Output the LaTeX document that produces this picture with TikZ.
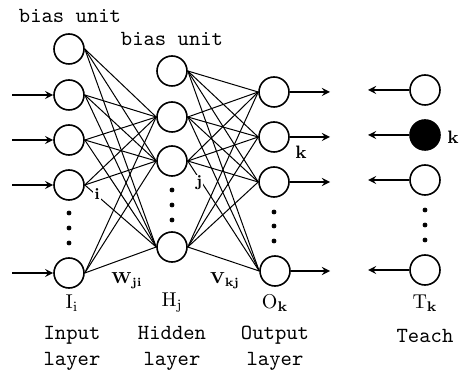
\documentclass[tikz,border=0pt]{standalone}
\usepackage{amsmath,amssymb}
\usepackage{tikz}

\tikzset{
    unit/.style={draw, circle, thick, minimum size=15pt, inner sep=0pt},
    teachon/.style={unit, fill=black},
    link/.style={line width=0.5pt},
    io/.style={thick, -stealth},
    txt/.style={font=\ttfamily\fontsize{10.8}{13}\selectfont},
}

\begin{document}
\begin{tikzpicture}[x=0.5pt, y=-0.5pt]
    \useasboundingbox (0, 0) rectangle (465, 373);
    % units
    \node[unit] (I0) at (69, 49) {};
    \node[unit] (I1) at (69, 95) {};
    \node[unit] (I2) at (69, 140) {};
    \node[unit] (I3) at (69, 185) {};
    \node[unit] (I4) at (69, 273) {};
    \node[unit] (H0) at (172, 71) {};
    \node[unit] (H1) at (172, 117) {};
    \node[unit] (H2) at (172, 161) {};
    \node[unit] (H3) at (172, 247) {};
    \node[unit] (O1) at (274, 92) {};
    \node[unit] (O2) at (274, 137) {};
    \node[unit] (O3) at (274, 182) {};
    \node[unit] (O4) at (275, 271) {};
    \node[unit] (T1) at (425, 90) {};
    \node[teachon] (T2) at (425, 135) {};
    \node[unit] (T3) at (425, 180) {};
    \node[unit] (T4) at (425, 270) {};
    % weights
    \foreach \a in {I0, I1, I2, I3, I4}
        \foreach \b in {H1, H2, H3}
            \draw[link] (\a.east) -- (\b.west);
    \foreach \a in {H0, H1, H2, H3}
        \foreach \b in {O1, O2, O3, O4}
            \draw[link] (\a.east) -- (\b.west);
    % inputs, outputs, teacher signals
    \coordinate (x1) at (12, 95);
    \coordinate (x2) at (12, 140);
    \coordinate (x3) at (12, 185);
    \coordinate (x4) at (12, 273);
    \draw[io] (x1) -- (I1.west);
    \draw[io] (x2) -- (I2.west);
    \draw[io] (x3) -- (I3.west);
    \draw[io] (x4) -- (I4.west);
    \coordinate (y1) at (330, 92);
    \coordinate (y2) at (330, 137);
    \coordinate (y3) at (330, 182);
    \coordinate (y4) at (330, 271);
    \draw[io] (O1.east) -- (y1);
    \draw[io] (O2.east) -- (y2);
    \draw[io] (O3.east) -- (y3);
    \draw[io] (O4.east) -- (y4);
    \coordinate (t1) at (368, 90);
    \coordinate (t2) at (368, 135);
    \coordinate (t3) at (368, 180);
    \coordinate (t4) at (368, 270);
    \draw[io] (T1.west) -- (t1);
    \draw[io] (T2.west) -- (t2);
    \draw[io] (T3.west) -- (t3);
    \draw[io] (T4.west) -- (t4);
    % dots
    \filldraw[black] (69, 213) circle (1pt) (69, 228) circle (1pt) (69, 243) circle (1pt);
    \filldraw[black] (172, 190) circle (1pt) (172, 205) circle (1pt) (172, 220) circle (1pt);
    \filldraw[black] (274, 212) circle (1pt) (274, 226) circle (1pt) (274, 241) circle (1pt);
    \filldraw[black] (425, 210) circle (1pt) (425, 225) circle (1pt) (425, 240) circle (1pt);
    % labels
    \node[txt] (bias1) at (70, 16) {bias unit};
    \node[txt] (bias2) at (172, 39) {bias unit};
    \node[font=\footnotesize\bfseries, fill=white, inner sep=0.5pt] (li) at (97, 194) {i};
    \node[font=\footnotesize\bfseries, fill=white, inner sep=0.5pt] (lj) at (199, 183) {j};
    \node[font=\small\bfseries] (lk) at (301, 152) {k};
    \node[font=\small\bfseries] (lk2) at (453, 137) {k};
    \node[font=\footnotesize] (wji) at (127, 281) {$\mathbf{W}_{\mathbf{ji}}$};
    \node[font=\footnotesize] (vkj) at (225, 281) {$\mathbf{V}_{\mathbf{kj}}$};
    \node (Ii) at (72, 303) {$\mathrm{I}_{\mathrm{i}}$};
    \node (Hj) at (172, 303) {$\mathrm{H}_{\mathrm{j}}$};
    \node (Ok) at (275, 303) {$\mathrm{O}_{\mathbf{k}}$};
    \node (Tk) at (425, 303) {$\mathrm{T}_{\mathbf{k}}$};
    \node[txt, align=center] (inl) at (72, 348) {Input\\layer};
    \node[txt, align=center] (hidl) at (172, 348) {Hidden\\layer};
    \node[txt, align=center] (outl) at (275, 348) {Output\\layer};
    \node[txt] (teachl) at (425, 336) {Teach};
\end{tikzpicture}
\end{document}
